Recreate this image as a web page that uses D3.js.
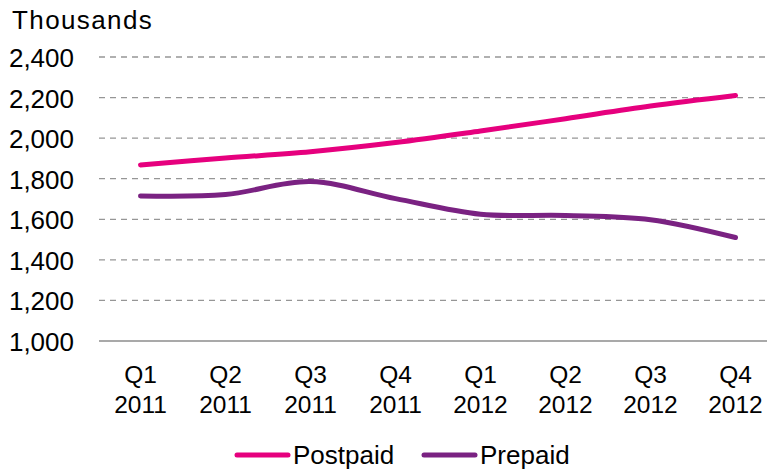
<!DOCTYPE html>
<html>
<head>
<meta charset="utf-8">
<script src="https://cdn.jsdelivr.net/npm/d3@7"></script>
<style>
  body { margin: 0; background: #fff; }
  text { font-family: "Liberation Sans", Arial, sans-serif; fill: #000; }
</style>
</head>
<body>
<script>
//chart data
var quarters = ["Q1", "Q2", "Q3", "Q4", "Q1", "Q2", "Q3", "Q4"];
var years = ["2011", "2011", "2011", "2011", "2012", "2012", "2012", "2012"];
var postpaid = [1868, 1902, 1933, 1978, 2035, 2096, 2158, 2210];
var prepaid = [1715, 1722, 1786, 1702, 1625, 1619, 1598, 1510];
var yTicks = [1000, 1200, 1400, 1600, 1800, 2000, 2200, 2400];

var width = 767,
    height = 470;

var svg = d3.select("body")
    .append("svg")
    .attr("width", width)
    .attr("height", height);

//scales
var x = d3.scaleBand()
    .domain(d3.range(quarters.length))
    .range([98, 778]);

var y = d3.scaleLinear()
    .domain([1000, 2400])
    .range([341, 57]);

//unit label
svg.append("text")
    .attr("x", 12)
    .attr("y", 29)
    .style("font-size", "26px")
    .style("letter-spacing", "1.4px")
    .text("Thousands");

//gridlines
svg.selectAll(".grid")
    .data(yTicks)
    .enter()
    .append("line")
    .attr("x1", 99)
    .attr("x2", width)
    .attr("y1", function(d){ return y(d); })
    .attr("y2", function(d){ return y(d); })
    .attr("stroke", function(d){ return d == 1000 ? "#8c8c8c" : "#969696"; })
    .attr("stroke-width", 1.3)
    .attr("stroke-dasharray", function(d){ return d == 1000 ? null : "6,5"; });

//y tick labels
svg.selectAll(".ylab")
    .data(yTicks)
    .enter()
    .append("text")
    .attr("x", 74)
    .attr("y", function(d){ return y(d) + 10; })
    .attr("text-anchor", "end")
    .style("font-size", "26px")
    .text(d3.format(","));

//x labels
var xl = svg.selectAll(".xlab")
    .data(quarters)
    .enter()
    .append("text")
    .attr("text-anchor", "middle")
    .style("font-size", "24.5px");
xl.append("tspan")
    .attr("x", function(d, i){ return x(i) + x.bandwidth() / 2; })
    .attr("y", 383)
    .text(function(d){ return d; });
xl.append("tspan")
    .attr("x", function(d, i){ return x(i) + x.bandwidth() / 2; })
    .attr("y", 413)
    .text(function(d, i){ return years[i]; });

//lines
var line = d3.line()
    .x(function(d, i){ return x(i) + x.bandwidth() / 2; })
    .y(function(d){ return y(d); })
    .curve(d3.curveCatmullRom.alpha(0));

var series = [
    {name: "Postpaid", values: postpaid, color: "#e6007e"},
    {name: "Prepaid", values: prepaid, color: "#7a2282"}
];

svg.selectAll(".series")
    .data(series)
    .enter()
    .append("path")
    .attr("d", function(d){ return line(d.values); })
    .attr("fill", "none")
    .attr("stroke", function(d){ return d.color; })
    .attr("stroke-width", 5)
    .attr("stroke-linecap", "round");

//legend
var legendX = [237, 424];
var legend = svg.selectAll(".legend")
    .data(series)
    .enter()
    .append("g")
    .attr("transform", function(d, i){ return "translate(" + legendX[i] + ",455)"; });
legend.append("line")
    .attr("x1", 0)
    .attr("x2", 51)
    .attr("stroke", function(d){ return d.color; })
    .attr("stroke-width", 5)
    .attr("stroke-linecap", "round");
legend.append("text")
    .attr("x", 56)
    .attr("y", 9)
    .style("font-size", "26px")
    .text(function(d){ return d.name; });
</script>
</body>
</html>
